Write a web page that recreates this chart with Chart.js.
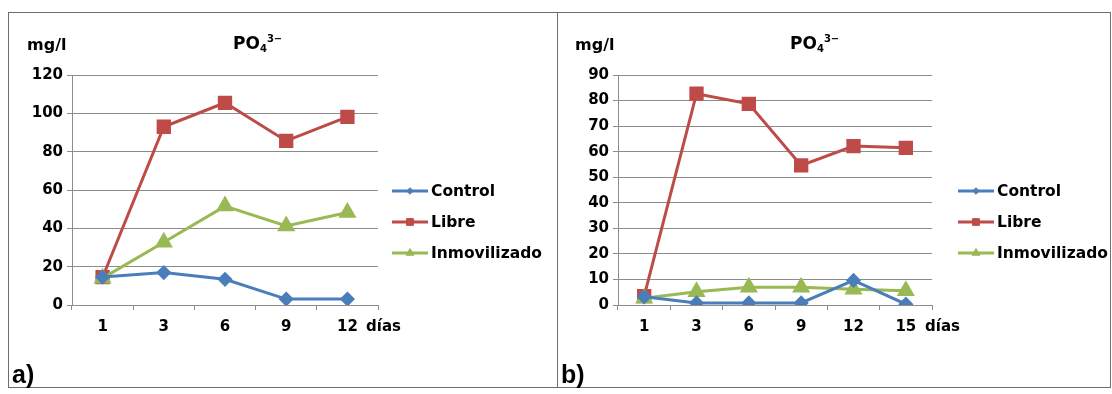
<!DOCTYPE html>
<html lang="es">
<head>
  <meta charset="UTF-8">
  <title>PO4 3- mg/l</title>
  <script src="https://cdn.jsdelivr.net/npm/chart.js"></script>
  <style>
    body {
      margin: 0;
      background: #fff;
      font-family: "DejaVu Sans", sans-serif;
      font-weight: bold;
      color: #000;
    }
    .panel {
      position: absolute;
      top: 12px;
      height: 376px;
      border: 1px solid #6e6e6e;
      box-sizing: border-box;
    }
    #pa { left: 8px; width: 550px; }
    #pb { left: 557px; width: 554px; }
    .panel canvas { position: absolute; left: 0; top: 0; }
    .txt { position: absolute; white-space: nowrap; }
    .unit { font-size: 16px; top: 22px; }
    .ttl { font-size: 17px; top: 20px; }
    .ttl sub { font-size: 10px; vertical-align: -3px; }
    .ttl sup { font-size: 10px; vertical-align: 7px; }
    .dias { font-size: 15px; top: 304px; }
    .tag { font-family: "Liberation Sans", Arial, sans-serif; font-size: 25px; top: 347px; left: 3px; }
  </style>
</head>
<body>
  <div class="panel" id="pa">
    <canvas id="chartA" width="548" height="374"></canvas>
    <div class="txt unit" style="left:18px">mg/l</div>
    <div class="txt ttl" style="left:224px">PO<sub>4</sub><sup>3&#8722;</sup></div>
    <div class="txt dias" style="left:357px">días</div>
    <div class="txt tag">a)</div>
  </div>
  <div class="panel" id="pb">
    <canvas id="chartB" width="552" height="374"></canvas>
    <div class="txt unit" style="left:17px">mg/l</div>
    <div class="txt ttl" style="left:232px">PO<sub>4</sub><sup>3&#8722;</sup></div>
    <div class="txt dias" style="left:367px">días</div>
    <div class="txt tag">b)</div>
  </div>

  <script>
    // días de muestreo
    const diasA = ['1', '3', '6', '9', '12'];
    const diasB = ['1', '3', '6', '9', '12', '15'];

    // fosfato (mg/l), ensayo a)
    const controlA = [14.6, 16.9, 13.4, 3.1, 3.1];
    const libreA = [14.5, 93.0, 105.5, 85.6, 98.2];
    const inmovA = [14.0, 32.7, 51.6, 41.2, 48.3];

    // fosfato (mg/l), ensayo b)
    const controlB = [3.2, 0.8, 0.8, 0.8, 9.6, 0.3];
    const libreB = [3.5, 82.7, 78.7, 54.6, 62.2, 61.5];
    const inmovB = [2.6, 5.2, 6.9, 6.9, 6.2, 5.6];

    const series = ['Control', 'Libre', 'Inmovilizado'];

    const styles = [
      { color: '#4a7ebb', pointStyle: 'rectRot', pointRadius: 5.5 },
      { color: '#be4b48', pointStyle: 'rect', pointRadius: 8 },
      { color: '#98b954', pointStyle: 'triangle', pointRadius: 7.5 }
    ];

    const gris = '#8c8c8c';
    const fuente = { family: '"DejaVu Sans", sans-serif', weight: 'bold', size: 15 };

    // leyenda a la derecha: trazo de línea con su marcador y el nombre
    const leyendaLateral = {
      id: 'leyendaLateral',
      afterDraw(chart, args, opts) {
        const ctx = chart.ctx;
        ctx.save();
        chart.data.datasets.forEach((ds, i) => {
          const y = opts.y + i * opts.gap;
          ctx.strokeStyle = ds.borderColor;
          ctx.lineWidth = 3;
          ctx.beginPath();
          ctx.moveTo(opts.x, y);
          ctx.lineTo(opts.x + 36, y);
          ctx.stroke();
          ctx.fillStyle = ds.backgroundColor;
          ctx.strokeStyle = ds.backgroundColor;
          ctx.lineWidth = 1;
          Chart.helpers.drawPoint(ctx, {
            pointStyle: ds.pointStyle,
            radius: ds.pointRadius * 0.6,
            rotation: 0,
            borderWidth: 1
          }, opts.x + 18, y);
          ctx.fillStyle = '#000';
          ctx.font = 'bold 15.5px "DejaVu Sans", sans-serif';
          ctx.textBaseline = 'middle';
          ctx.fillText(ds.label, opts.x + 39, y + 1);
        });
        ctx.restore();
      }
    };

    function grafico(id, dias, valores, ymax, paso, padRight, yWidth, leyendaX) {
      const datasets = valores.map((vals, i) => ({
        label: series[i],
        data: vals,
        borderColor: styles[i].color,
        backgroundColor: styles[i].color,
        pointBackgroundColor: styles[i].color,
        pointBorderColor: styles[i].color,
        pointStyle: styles[i].pointStyle,
        pointRadius: styles[i].pointRadius,
        borderWidth: 3,
        tension: 0
      }));
      // el orden de dibujo deja el control encima
      datasets[0].order = 0;
      datasets[1].order = 2;
      datasets[2].order = 1;

      return new Chart(document.getElementById(id), {
        type: 'line',
        data: { labels: dias, datasets: datasets },
        options: {
          responsive: false,
          animation: false,
          layout: { padding: { left: 0, top: 62, right: padRight, bottom: 52 } },
          plugins: {
            legend: { display: false },
            tooltip: { enabled: false },
            leyendaLateral: { x: leyendaX, y: 178, gap: 31 }
          },
          scales: {
            x: {
              offset: true,
              afterFit: s => { s.height = 30; },
              grid: {
                offset: true,
                drawOnChartArea: false,
                drawTicks: true,
                tickLength: 5,
                color: gris
              },
              border: { color: gris, width: 1 },
              ticks: { color: '#000', font: fuente, padding: 8, maxRotation: 0 }
            },
            y: {
              min: 0,
              max: ymax,
              afterFit: s => { s.width = yWidth; },
              grid: { color: gris, tickLength: 5 },
              border: { color: gris, width: 1 },
              ticks: { stepSize: paso, color: '#000', font: fuente, padding: 4 }
            }
          }
        },
        plugins: [leyendaLateral]
      });
    }

    grafico('chartA', diasA, [controlA, libreA, inmovA], 120, 20, 179, 63, 383);
    grafico('chartB', diasB, [controlB, libreB, inmovB], 90, 10, 178, 60, 400);
  </script>
</body>
</html>
